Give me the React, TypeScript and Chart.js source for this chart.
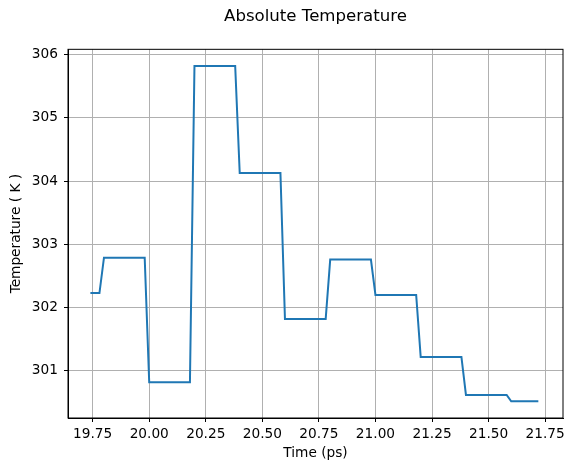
import { useEffect, useRef } from 'react';
import { Chart, registerables } from 'chart.js';
import type { Plugin } from 'chart.js';

Chart.register(...registerables);

// time (ps) at each corner of the trace
const TIMES = [
  19.74, 19.78, 19.80, 19.98, 20.00, 20.18, 20.20, 20.38, 20.40, 20.58, 20.60,
  20.78, 20.80, 20.98, 21.00, 21.18, 21.20, 21.38, 21.40, 21.58, 21.60, 21.72,
];
// temperature (K)
const TEMPS = [
  302.23, 302.23, 302.79, 302.79, 300.82, 300.82, 305.82, 305.82, 304.13, 304.13, 301.82,
  301.82, 302.76, 302.76, 302.20, 302.20, 301.22, 301.22, 300.62, 300.62, 300.52, 300.52,
];

const X_TICKS = [19.75, 20.0, 20.25, 20.5, 20.75, 21.0, 21.25, 21.5, 21.75];
const Y_TICKS = [301, 302, 303, 304, 305, 306];
const X_LIMITS = [19.641, 21.829];
const Y_LIMITS = [300.255, 306.085];

const FONT = "'DejaVu Sans', sans-serif";

// matplotlib-style box around the plot area
const frame: Plugin<'line'> = {
  id: 'frame',
  afterDraw(chart) {
    const { ctx, chartArea: a } = chart;
    ctx.save();
    ctx.strokeStyle = '#000';
    ctx.lineWidth = 1;
    ctx.strokeRect(a.left, a.top, a.right - a.left, a.bottom - a.top);
    ctx.restore();
  },
};

export default function App() {
  const canvasRef = useRef<HTMLCanvasElement>(null);

  useEffect(() => {
    document.body.style.margin = '0';
    if (!canvasRef.current) return;
    const chart = new Chart(canvasRef.current, {
      type: 'line',
      data: {
        datasets: [{
          data: TIMES.map((t, i) => ({ x: t, y: TEMPS[i] })),
          borderColor: '#1f77b4',
          borderWidth: 2,
          pointRadius: 0,
          tension: 0,
          fill: false,
        }],
      },
      options: {
        responsive: true,
        maintainAspectRatio: false,
        animation: false,
        layout: { padding: { left: 0, right: 13, top: 0, bottom: 0 } },
        plugins: {
          legend: { display: false },
          tooltip: { enabled: false },
          title: {
            display: true,
            text: 'Absolute Temperature',
            color: '#000',
            fullSize: false,
            font: { family: FONT, size: 16.6, weight: 'normal' },
            padding: { top: 7, bottom: 22.4 },
          },
        },
        scales: {
          x: {
            type: 'linear',
            min: X_LIMITS[0],
            max: X_LIMITS[1],
            afterBuildTicks: (s) => { s.ticks = X_TICKS.map(v => ({ value: v })); },
            afterFit: (s) => { s.height = 54; s.paddingLeft = 0; s.paddingRight = 0; },
            grid: { color: '#b0b0b0', lineWidth: 1, tickColor: '#000', tickLength: 4 },
            border: { color: '#000', width: 1 },
            ticks: {
              autoSkip: false,
              maxRotation: 0,
              padding: 3.8,
              color: '#000',
              font: { family: FONT, size: 13.7 },
              callback: (v) => Number(v).toFixed(2),
            },
            title: {
              display: true,
              text: 'Time (ps)',
              color: '#000',
              font: { family: FONT, size: 13.7 },
              padding: { top: 0, bottom: 10.8 },
            },
          },
          y: {
            type: 'linear',
            min: Y_LIMITS[0],
            max: Y_LIMITS[1],
            afterBuildTicks: (s) => { s.ticks = Y_TICKS.map(v => ({ value: v })); },
            afterFit: (s) => { s.width = 68; s.paddingTop = 0; s.paddingBottom = 0; },
            grid: { color: '#b0b0b0', lineWidth: 1, tickColor: '#000', tickLength: 4 },
            border: { color: '#000', width: 1 },
            ticks: {
              padding: 6,
              color: '#000',
              font: { family: FONT, size: 13.7 },
              callback: (v) => String(v),
            },
            title: {
              display: true,
              text: 'Temperature ( K )',
              color: '#000',
              font: { family: FONT, size: 13.7 },
              padding: { top: 7.8, bottom: 0 },
            },
          },
        },
      },
      plugins: [frame],
    });
    return () => chart.destroy();
  }, []);

  return (
    <div style={{ width: 576, height: 472, position: 'relative', background: '#fff' }}>
      <canvas ref={canvasRef} />
    </div>
  );
}
